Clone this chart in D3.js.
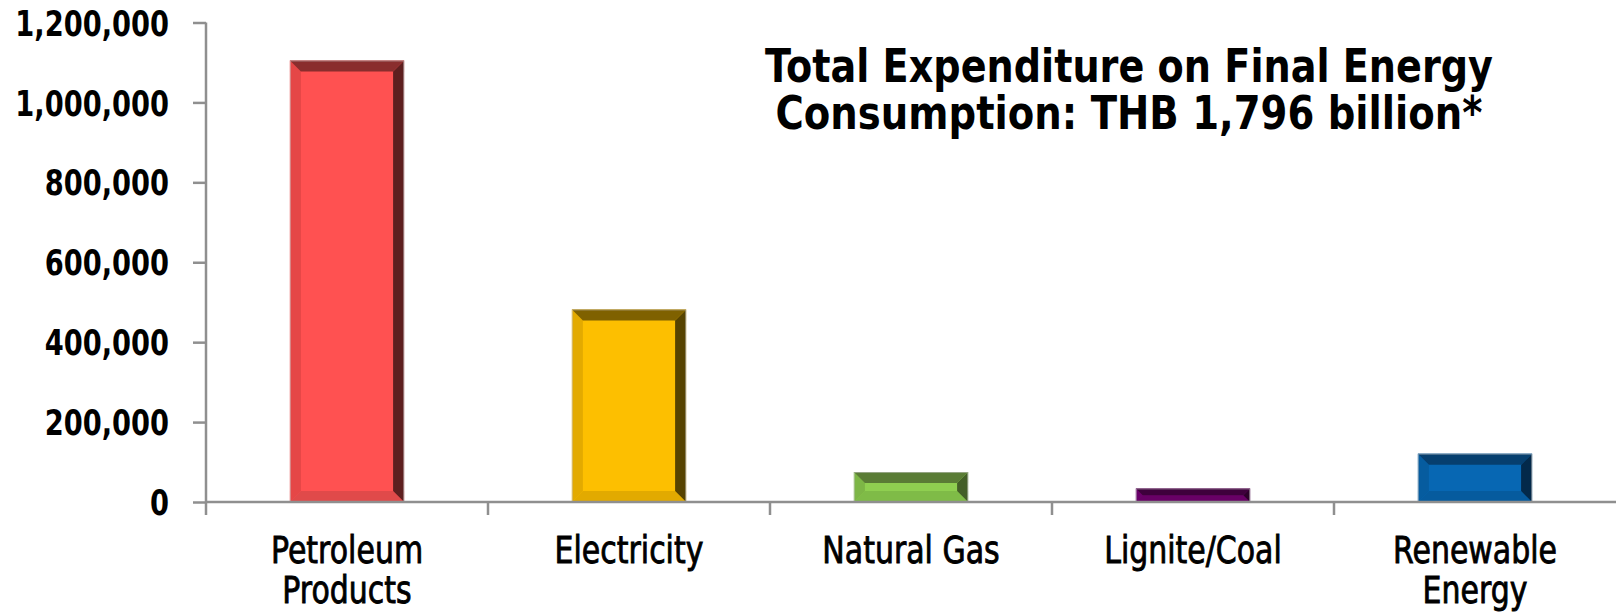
<!DOCTYPE html>
<html>
<head>
<meta charset="utf-8">
<script src="https://cdn.jsdelivr.net/npm/d3@7/dist/d3.min.js"></script>
<style>
  html, body { margin: 0; padding: 0; background: #ffffff; }
  svg { display: block; }
</style>
</head>
<body>
<svg id="chart" width="1616" height="613"></svg>
<script>
// ---- data ----
const categories = ["Petroleum Products", "Electricity", "Natural Gas", "Lignite/Coal", "Renewable Energy"];
const categoryLines = [["Petroleum", "Products"], ["Electricity"], ["Natural Gas"], ["Lignite/Coal"], ["Renewable", "Energy"]];
const values = [1105000, 482000, 75000, 34000, 121000];
const yTicks = [0, 200000, 400000, 600000, 800000, 1000000, 1200000];
const titleLines = ["Total Expenditure on Final Energy", "Consumption: THB 1,796 billion*"];

// ---- styles ----
const palette = [
  { face: "#ff5151", top: "#8a2d2d", left: "#e54747", right: "#5e1f1f", bottom: "#e04a4a" },
  { face: "#fdbf00", top: "#7f6100", left: "#e3aa00", right: "#574300", bottom: "#e2aa00" },
  { face: "#8fcf50", top: "#5a7c35", left: "#7db646", right: "#435f27", bottom: "#7fbb47" },
  { face: "#760073", top: "#3e003c", left: "#69006a", right: "#2c002a", bottom: "#680066" },
  { face: "#0767b3", top: "#063f6f", left: "#065c9f", right: "#03294a", bottom: "#065b9e" }
];
const axisColor = "#8f8f8f";

const svg = d3.select("#chart");

const x = d3.scaleBand().domain(categories).range([206, 1616]).paddingInner(0.595).paddingOuter(0.2975);
const y = d3.scaleLinear().domain([0, 1200000]).range([502, 22.5]);

function compress(sel, k) {
  sel.each(function () {
    const w = this.getComputedTextLength();
    d3.select(this).attr("textLength", w * k).attr("lengthAdjust", "spacingAndGlyphs");
  });
}

// ---- bars with bevel ----
const bars = svg.append("g");
categories.forEach((c, i) => {
  const x0 = x(c), x1 = x(c) + x.bandwidth();
  const y0 = y(values[i]), y1 = y(0);
  const b = Math.min(11, (y1 - y0) / 2);
  const col = palette[i];
  const g = bars.append("g");
  g.append("rect").attr("x", x0).attr("y", y0).attr("width", x1 - x0).attr("height", y1 - y0).attr("fill", col.face);
  const poly = (pts, fill) => g.append("polygon").attr("points", pts.map(p => p.join(",")).join(" ")).attr("fill", fill);
  poly([[x0, y1], [x1, y1], [x1 - b, y1 - b], [x0 + b, y1 - b]], col.bottom);
  poly([[x0, y0], [x0 + b, y0 + b], [x0 + b, y1 - b], [x0, y1]], col.left);
  poly([[x1, y0], [x1, y1], [x1 - b, y1 - b], [x1 - b, y0 + b]], col.right);
  poly([[x0, y0], [x1, y0], [x1 - b, y0 + b], [x0 + b, y0 + b]], col.top);
  g.append("rect").attr("x", x0 + 0.5).attr("y", y0 + 0.5).attr("width", x1 - x0 - 1).attr("height", y1 - y0 - 0.5)
    .attr("fill", "none").attr("stroke", "rgba(200,200,200,0.55)").attr("stroke-width", 1);
});

// ---- y axis ----
const yAxis = d3.axisLeft(y).tickValues(yTicks).tickSize(13).tickPadding(24).tickFormat(d3.format(","));
const gy = svg.append("g").attr("transform", "translate(206,0)").call(yAxis);
gy.select(".domain").attr("stroke", axisColor).attr("stroke-width", 2.5).attr("d", `M0,${y(1200000)}V${y(0)}`);
gy.selectAll(".tick line").attr("stroke", axisColor).attr("stroke-width", 2.5);
gy.selectAll(".tick text")
  .attr("fill", "#000")
  .attr("font-family", "'DejaVu Sans', Verdana, sans-serif")
  .attr("font-weight", "bold")
  .attr("font-size", 35)
  .attr("dy", "0.36em");
compress(gy.selectAll(".tick text"), 0.78);

// ---- x axis ----
const gx = svg.append("g");
gx.append("line").attr("x1", 206).attr("x2", 1616).attr("y1", y(0)).attr("y2", y(0))
  .attr("stroke", axisColor).attr("stroke-width", 2.5);
const step = x.step();
const bounds = categories.map(c => x(c) - (step - x.bandwidth()) / 2);
gx.selectAll("line.xt").data(bounds).enter().append("line").attr("class", "xt")
  .attr("x1", d => d).attr("x2", d => d).attr("y1", y(0)).attr("y2", y(0) + 13)
  .attr("stroke", axisColor).attr("stroke-width", 2.5);

categories.forEach((c, i) => {
  const cx = x(c) + x.bandwidth() / 2;
  categoryLines[i].forEach((ln, j) => {
    const t = gx.append("text").attr("x", cx).attr("y", 563 + j * 40)
      .attr("text-anchor", "middle")
      .attr("font-family", "'DejaVu Sans', Verdana, sans-serif")
      .attr("font-size", 37)
      .attr("fill", "#000")
      .attr("stroke", "#000")
      .attr("stroke-width", 0.9)
      .text(ln);
    compress(t, 0.81);
  });
});

// ---- title ----
const titleTargets = [728, 707];
titleLines.forEach((ln, j) => {
  svg.append("text").attr("x", 1129).attr("y", 82 + j * 47)
    .attr("text-anchor", "middle")
    .attr("font-family", "'DejaVu Sans', Verdana, sans-serif")
    .attr("font-weight", "bold")
    .attr("font-size", 46)
    .attr("fill", "#000")
    .attr("textLength", titleTargets[j])
    .attr("lengthAdjust", "spacingAndGlyphs")
    .text(ln);
});
</script>
</body>
</html>
